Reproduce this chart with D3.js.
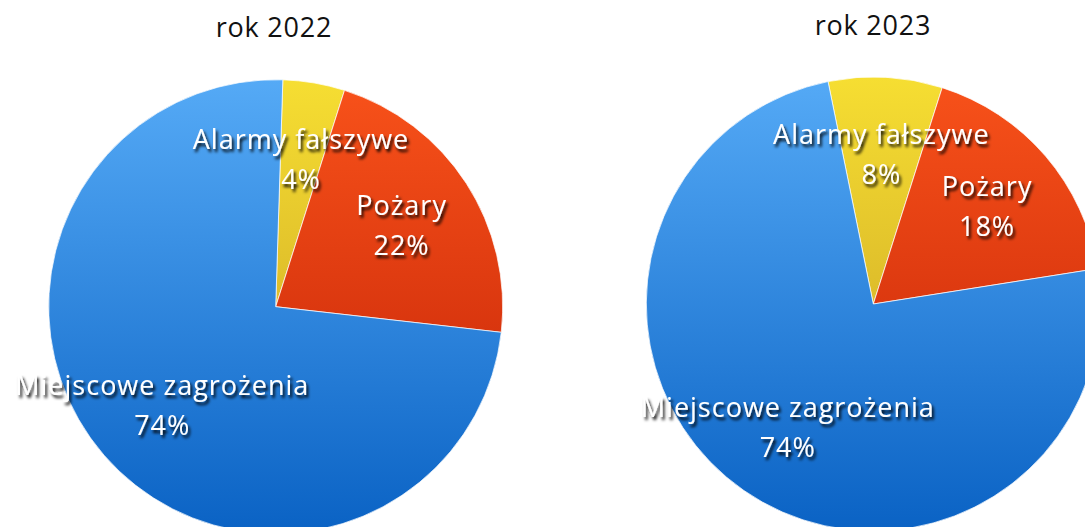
<!DOCTYPE html>
<html>
<head>
<meta charset="utf-8">
<script src="https://cdn.jsdelivr.net/npm/d3@7"></script>
<style>
    body { margin: 0; background: #fff; }
    svg { display: block; }
    text { font-family: "Open Sans", Lato, sans-serif; }
</style>
</head>
<body>
<svg id="chart" width="1085" height="527"></svg>
<script>
// categories in drawing order (clockwise from the first slice)
const categories = ["Alarmy fałszywe", "Pożary", "Miejscowe zagrożenia"];
const years = ["rok 2022", "rok 2023"];
// shares (percent)
const values2022 = [4.4, 21.9, 73.7];
const values2023 = [8.1, 17.6, 74.3];
const labels2022 = ["4%", "22%", "74%"];
const labels2023 = ["8%", "18%", "74%"];

const svg = d3.select("#chart");
const radius = 227;

const colors = {
    "Alarmy fałszywe": ["#f6de32", "#c49a22"],
    "Pożary": ["#f8521a", "#c01f05"],
    "Miejscowe zagrożenia": ["#55aaf6", "#0a62c4"]
};

const defs = svg.append("defs");

// soft dark shadow behind the white labels
const shadow = defs.append("filter")
    .attr("id", "txtShadow")
    .attr("x", "-20%").attr("y", "-40%")
    .attr("width", "140%").attr("height", "180%");
shadow.append("feDropShadow")
    .attr("dx", 2).attr("dy", 3)
    .attr("stdDeviation", 1.8)
    .attr("flood-color", "#000")
    .attr("flood-opacity", 0.95);

const charts = [
    { title: years[0], values: values2022, labels: labels2022, cx: 275.7, cy: 306.7, start: 1.8, titleX: 274, titleY: 37 },
    { title: years[1], values: values2023, labels: labels2023, cx: 873.3, cy: 304, start: -11.5, titleX: 873, titleY: 35 }
];

charts.forEach((c, ci) => {
    const data = categories.map((name, i) => ({ name, value: c.values[i], label: c.labels[i] }));

    const startRad = c.start * Math.PI / 180;
    const pie = d3.pie()
        .sort(null)
        .value(d => d.value)
        .startAngle(startRad)
        .endAngle(startRad + 2 * Math.PI);

    const arc = d3.arc().innerRadius(0).outerRadius(radius);
    const labelArc = d3.arc().innerRadius(150).outerRadius(150);

    // vertical gradients per slice (local coords of the pie group)
    categories.forEach((name, i) => {
        const g = defs.append("linearGradient")
            .attr("id", `grad${ci}_${i}`)
            .attr("gradientUnits", "userSpaceOnUse")
            .attr("x1", 0).attr("y1", -radius)
            .attr("x2", 0).attr("y2", radius);
        g.append("stop").attr("offset", "0%").attr("stop-color", colors[name][0]);
        g.append("stop").attr("offset", "100%").attr("stop-color", colors[name][1]);
    });

    const g = svg.append("g").attr("transform", `translate(${c.cx},${c.cy})`);

    g.selectAll("path")
        .data(pie(data))
        .enter()
        .append("path")
        .attr("d", arc)
        .attr("fill", (d, i) => `url(#grad${ci}_${i})`)
        .attr("stroke", "rgba(255,255,255,0.7)")
        .attr("stroke-width", 1);

    // labels: category name + percentage
    const lbl = g.selectAll("g.lbl")
        .data(pie(data))
        .enter()
        .append("g")
        .attr("class", "lbl")
        .attr("transform", d => `translate(${labelArc.centroid(d)})`)
        .style("filter", "url(#txtShadow)");

    lbl.append("text")
        .attr("text-anchor", "middle")
        .attr("y", -10)
        .attr("fill", "#fff")
        .attr("font-size", 27)
        .attr("letter-spacing", 1)
        .text(d => d.data.name);

    lbl.append("text")
        .attr("text-anchor", "middle")
        .attr("y", 30)
        .attr("fill", "#fff")
        .attr("font-size", 27)
        .attr("letter-spacing", 1)
        .text(d => d.data.label);

    // title
    svg.append("text")
        .attr("x", c.titleX)
        .attr("y", c.titleY)
        .attr("text-anchor", "middle")
        .attr("fill", "#111")
        .attr("font-size", 27)
        .attr("letter-spacing", 0.8)
        .text(c.title);
});
</script>
</body>
</html>
